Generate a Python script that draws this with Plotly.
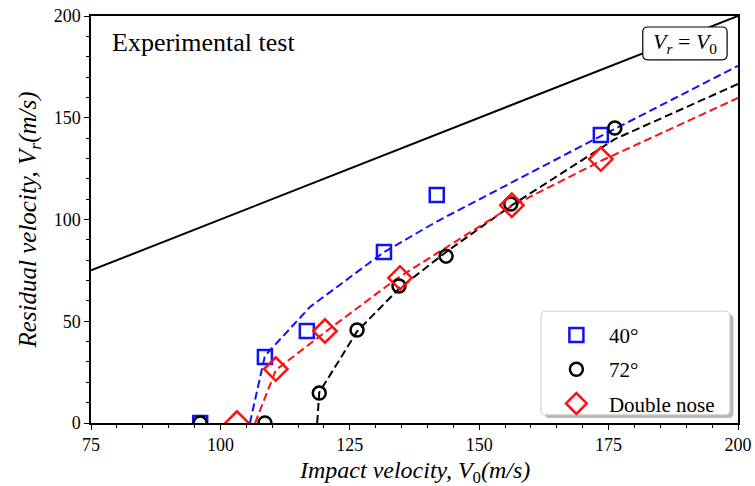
import plotly.graph_objects as go

# ---- data ----
x40 = [96.1, 108.6, 116.7, 131.6, 141.8, 173.5]
y40 = [0, 32.4, 45.2, 84.0, 112.0, 141.5]
x72 = [96.1, 108.6, 119.1, 126.4, 134.5, 143.6, 156.1, 176.2]
y72 = [0, 0, 14.7, 45.7, 67.3, 82.0, 107.6, 145.0]
xdn = [103.2, 110.7, 120.2, 134.7, 156.3, 173.5]
ydn = [0, 26.5, 45.2, 71.3, 107.0, 129.7]

# fitted (dashed) curves
fx40 = [105.7, 108.6, 117.3, 131.6, 141.8, 173.5, 200]
fy40 = [0, 33, 57, 84, 99, 141, 175.5]
fx72 = [118.7, 119.1, 126.4, 134.5, 143.6, 156.3, 176.2, 200]
fy72 = [0, 15, 45, 66, 84, 107, 139.5, 166.6]
fxdn = [106.7, 110.7, 120.4, 134.1, 156.3, 173.7, 200]
fydn = [0, 26, 45, 71, 106.6, 129, 159.7]

ref_x = [75, 200]
ref_y = [75, 200]

names = ["40°", "72°", "Double nose"]
FONT = "Liberation Serif"

fig = go.Figure()

fig.add_trace(go.Scatter(x=ref_x, y=ref_y, mode="lines",
                         line=dict(color="black", width=2), showlegend=False))
fig.add_trace(go.Scatter(x=fx40, y=fy40, mode="lines",
                         line=dict(color="#1010ff", width=2, dash="8px,4px"), showlegend=False))
fig.add_trace(go.Scatter(x=fx72, y=fy72, mode="lines",
                         line=dict(color="black", width=2, dash="8px,4px"), showlegend=False))
fig.add_trace(go.Scatter(x=fxdn, y=fydn, mode="lines",
                         line=dict(color="#ff1010", width=2, dash="8px,4px"), showlegend=False))

fig.add_trace(go.Scatter(x=x40, y=y40, mode="markers", name=names[0], legendgroup="a",
                         marker=dict(symbol="square-open", size=14, color="#1010ff",
                                     line=dict(width=2.5, color="#1010ff"))))
fig.add_trace(go.Scatter(x=x72, y=y72, mode="markers", name=names[1], legendgroup="b",
                         marker=dict(symbol="circle-open", size=13, color="black",
                                     line=dict(width=2.5, color="black"))))
fig.add_trace(go.Scatter(x=xdn, y=ydn, mode="markers", name=names[2], legendgroup="c",
                         marker=dict(symbol="diamond-open", size=18, color="#ff1010",
                                     line=dict(width=2.5, color="#ff1010"))))

def rounded(x0, y0, x1, y1, rx, ry):
    return (f"M {x0+rx},{y0} L {x1-rx},{y0} Q {x1},{y0} {x1},{y0+ry} "
            f"L {x1},{y1-ry} Q {x1},{y1} {x1-rx},{y1} L {x0+rx},{y1} "
            f"Q {x0},{y1} {x0},{y1-ry} L {x0},{y0+ry} Q {x0},{y0} {x0+rx},{y0} Z")

shapes = [
    # V_r = V_0 box
    dict(type="path", xref="x", yref="y", layer="above",
         path=rounded(181.6, 178.4, 197.9, 194.6, 1.0, 2.5),
         fillcolor="white", line=dict(color="black", width=1.2)),
    # legend shadow
    dict(type="path", xref="paper", yref="paper", layer="above",
         path=rounded(0.701, 0.012, 0.993, 0.267, 0.008, 0.012),
         fillcolor="#b8b8b8", line=dict(width=0)),
    # legend box
    dict(type="path", xref="paper", yref="paper", layer="above",
         path=rounded(0.6955, 0.020, 0.9876, 0.275, 0.008, 0.012),
         fillcolor="white", line=dict(color="#cccccc", width=1)),
]

annotations = [
    dict(x=189.75, y=186.5, xref="x", yref="y", showarrow=False,
         text="<i>V</i><sub><i>r</i></sub> = <i>V</i><sub>0</sub>",
         font=dict(family=FONT, size=22, color="black")),
    dict(x=78.6, y=187.0, xref="x", yref="y", showarrow=False, xanchor="left",
         text="Experimental test", font=dict(family=FONT, size=26, color="black")),
    # x-axis title
    dict(x=0.5, y=-0.121, xref="paper", yref="paper", showarrow=False,
         xanchor="center", yanchor="middle",
         text="<i>Impact velocity, V</i><sub>0</sub><i>(m/s)</i>",
         font=dict(family=FONT, size=24, color="black")),
]

axis_common = dict(showline=True, linecolor="black", linewidth=1.5, mirror=True,
                   ticks="outside", ticklen=5, tickwidth=1.2, tickcolor="black",
                   showgrid=False, zeroline=False, automargin=False,
                   tickfont=dict(family=FONT, size=18, color="black"))

fig.update_layout(
    width=755, height=486,
    margin=dict(l=91, r=17, t=16, b=63),
    paper_bgcolor="white", plot_bgcolor="white",
    shapes=shapes, annotations=annotations,
    xaxis=dict(range=[75, 200], tickvals=[75, 100, 125, 150, 175, 200],
               minor=dict(dtick=5, tick0=75, ticks="outside", ticklen=3, tickcolor="black"),
               **axis_common),
    yaxis=dict(range=[0, 200], tickvals=[0, 50, 100, 150, 200],
               minor=dict(dtick=10, tick0=0, ticks="outside", ticklen=3, tickcolor="black"),
               title=dict(text="<i>Residual velocity, V</i><sub><i>r</i></sub><i>(m/s)</i>",
                          font=dict(family=FONT, size=25, color="black"), standoff=10),
               **axis_common),
    legend=dict(x=0.700, y=0.266, xanchor="left", yanchor="top",
                bgcolor="rgba(0,0,0,0)", borderwidth=0,
                font=dict(family=FONT, size=21, color="black"),
                tracegroupgap=4, itemwidth=55),
    showlegend=True,
)

fig.write_html("out.html")
